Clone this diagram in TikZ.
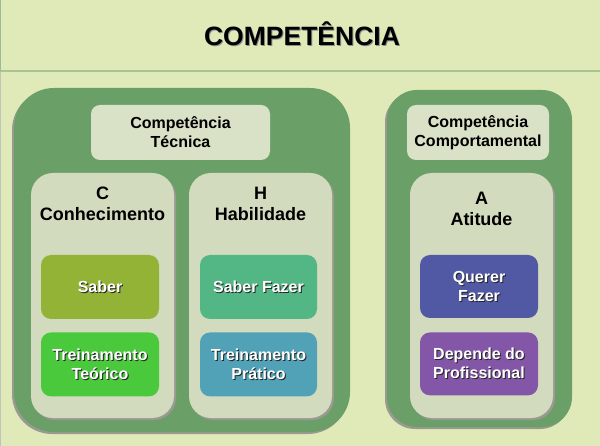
\documentclass[tikz,border=0pt]{standalone}
\usepackage{fontspec}
\setmainfont{Liberation Sans}
\usetikzlibrary{positioning}
\definecolor{pagebg}  {HTML}{E0EAB8}
\definecolor{rule}    {HTML}{A8C691}
\definecolor{outer}   {HTML}{6AA068}
\definecolor{panel}   {HTML}{D3DBBF}
\definecolor{labelbg} {HTML}{D9E1C6}
\definecolor{edge}    {HTML}{9A9A92}
\definecolor{saber}   {HTML}{93B336}
\definecolor{teorico} {HTML}{4BC93D}
\definecolor{fazer}   {HTML}{52B784}
\definecolor{pratico} {HTML}{51A1B7}
\definecolor{querer}  {HTML}{5159A4}
\definecolor{depende} {HTML}{8456A8}
\newcommand{\shadowed}[1]{\makebox[0pt][l]{\kern1pt\raisebox{-1pt}{\color{black!85}#1}}\textcolor{white}{#1}}

\begin{document}
\begin{tikzpicture}[x=1pt, y=-1pt, font=\bfseries\fontsize{16}{19}\selectfont,
    outerbox/.style={fill=outer, rounded corners=#1, preaction={fill=edge, transform canvas={xshift=-2pt, yshift=-2pt}}},
    panelbox/.style={fill=panel, rounded corners=22pt, minimum width=143pt, minimum height=245pt,
      preaction={fill=edge, transform canvas={xshift=2pt, yshift=-2pt}}},
    titlebox/.style={fill=labelbg, rounded corners=9pt, minimum height=55pt, align=center, inner sep=0pt},
    itembox/.style={fill=#1, rounded corners=10pt, minimum width=118pt, minimum height=64pt, align=center, inner sep=0pt},
    heading/.style={align=center, font=\bfseries\fontsize{18}{21}\selectfont}]
  \useasboundingbox (0,0) rectangle (600,446);
  \fill[pagebg] (0,0) rectangle (600,446);
  \draw[rule, line width=1.5pt] (0,71) -- (600,71);
  \draw[outer!70, line width=1pt] (0.5,0) -- (0.5,71);
  \draw[edge!60, line width=1pt] (0.5,72) -- (0.5,446);
  \node[font=\bfseries\fontsize{26.5}{30}\selectfont] (title) at (302,34)
    {\makebox[0pt][l]{\kern1pt\raisebox{-1pt}{\color{black!45}COMPETÊNCIA}}COMPETÊNCIA};

  % left block
  \node[outerbox=40pt, minimum width=336pt, minimum height=344pt] (tec) at (182,260) {};
  \node[titlebox, minimum width=179pt] (teclabel) at (180.5,132.5) {Competência\\Técnica};
  \node[panelbox] (cpanel) at (102.5,295.5) {};
  \node[panelbox] (hpanel) at (260.5,295.5) {};
  \node[heading] (chead) at (102.5,204) {C\\Conhecimento};
  \node[heading] (hhead) at (260.5,204) {H\\Habilidade};
  \node[itembox=saber] (saber) at (100,287) {\shadowed{Saber}};
  \node[itembox=teorico, below=13pt of saber] (teorico) {\shadowed{Treinamento}\\\shadowed{Teórico}};
  \node[itembox=fazer, minimum width=117pt] (fazer) at (258.5,287) {\shadowed{Saber Fazer}};
  \node[itembox=pratico, minimum width=117pt, below=13pt of fazer] (pratico) {\shadowed{Treinamento}\\\shadowed{Prático}};

  % right block
  \node[outerbox=30pt, minimum width=185pt, minimum height=337pt] (comp) at (479.5,258.5) {};
  \node[titlebox, minimum width=142pt] (complabel) at (478,132.5) {Competência\\Comportamental};
  \node[panelbox] (apanel) at (481.5,295.5) {};
  \node[heading] (ahead) at (481.5,208.5) {A\\Atitude};
  \node[itembox=querer, minimum height=63pt] (querer) at (479,286.5) {\shadowed{Querer}\\\shadowed{Fazer}};
  \node[itembox=depende, minimum height=63pt, below=14pt of querer] (depende) {\shadowed{Depende do}\\\shadowed{Profissional}};
\end{tikzpicture}
\end{document}
